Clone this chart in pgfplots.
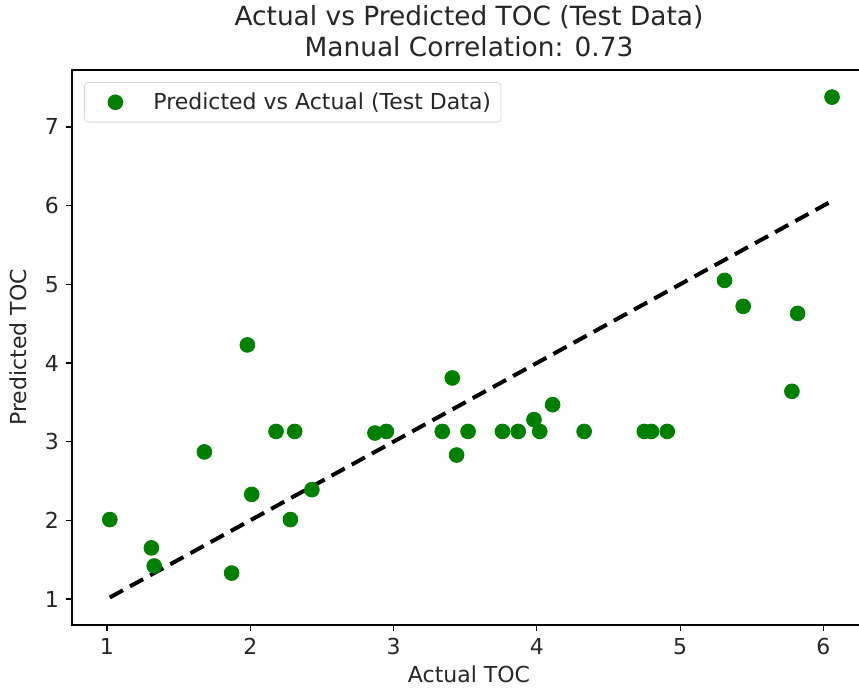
\documentclass[border=0pt]{standalone}
\usepackage{pgfplots}
\pgfplotsset{compat=1.18}
\usepackage{fontspec}
\setmainfont{DejaVu Sans}
\definecolor{mplgreen}{RGB}{0,128,0}
\begin{document}
\begin{tikzpicture}
\begin{axis}[
  at={(0,0)}, anchor=south west,
  scale only axis,
  width=397pt, height=277.5pt,
  xmin=0.756, xmax=6.297,
  ymin=0.670, ymax=7.724,
  xtick={1,2,3,4,5,6},
  ytick={1,2,3,4,5,6,7},
  tick align=outside,
  major tick length=3pt,
  tick style={black, line width=0.6pt},
  axis line style={line width=0.6pt},
  xtick pos=bottom, ytick pos=left,
  /pgf/number format/assume math mode=true,
  tick label style={font=\fontsize{11}{13}\selectfont, text=black!85},
  label style={font=\fontsize{11}{13}\selectfont, text=black!85},
  xlabel={Actual TOC},
  ylabel={Predicted TOC},
  xlabel style={at={(axis description cs:0.5,0)}, anchor=north, yshift=-17pt},
  ylabel style={at={(axis description cs:0,0.5)}, anchor=south, yshift=19pt},
  title={Actual vs Predicted TOC (Test Data)\\Manual Correlation: 0.73},
  title style={align=center, font=\fontsize{13.2}{15.5}\selectfont, text=black!85, at={(axis description cs:0.5,1)}, anchor=south, yshift=-3pt},
  legend style={at={(axis description cs:0,1)}, anchor=north west, xshift=6pt, yshift=-6pt,
    font=\fontsize{11}{13}\selectfont, draw=black!15, rounded corners=2pt, inner xsep=3pt, inner ysep=3pt,
    text=black!85},
  legend cell align=left,
  legend image code/.code={\path[draw=none, fill=none] (0pt,-3pt) rectangle (29.5pt,3pt); \draw plot coordinates {(12.5pt,0pt)};},
]
\addplot[only marks, mark=*, mark size=3.7pt, color=mplgreen, mark options={draw=mplgreen, fill=mplgreen}] coordinates {
(1.02,2.01) (1.31,1.65) (1.33,1.42) (1.68,2.87) (1.87,1.33) (1.98,4.23) (2.01,2.33)
(2.18,3.13) (2.28,2.01) (2.31,3.13) (2.43,2.39) (2.87,3.11) (2.95,3.13) (3.34,3.13)
(3.41,3.81) (3.44,2.83) (3.52,3.13) (3.76,3.13) (3.87,3.13) (3.98,3.28) (4.02,3.13)
(4.11,3.47) (4.33,3.13) (4.75,3.13) (4.80,3.13) (4.91,3.13) (5.31,5.05) (5.44,4.72)
(5.78,3.64) (5.82,4.63) (6.06,7.38)
};
\addlegendentry{Predicted vs Actual (Test Data)}
\addplot[black, line width=2pt, dash pattern=on 7.5pt off 4pt, forget plot] coordinates {(1.02,1.02) (6.06,6.06)};
\end{axis}
\pgfresetboundingbox
\path (-36pt,-33pt) rectangle (393.5pt,312.5pt);
\end{tikzpicture}
\end{document}
